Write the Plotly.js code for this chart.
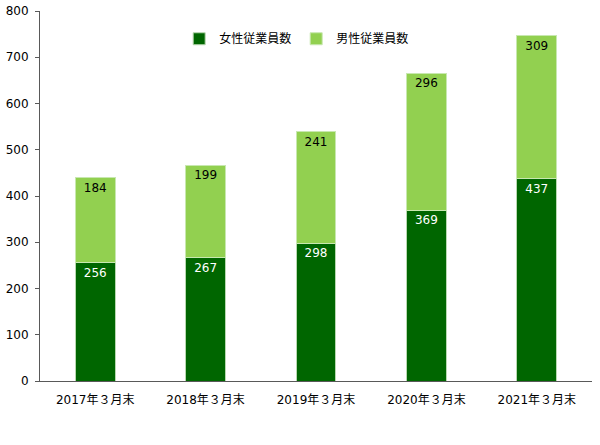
<!DOCTYPE html>
<html>
<head>
<meta charset="utf-8">
<script src="https://cdn.plot.ly/plotly-3.0.1.min.js"></script>
<style>
	html, body { margin: 0; padding: 0; background: #fff; }
	#chart { width: 600px; height: 445px; }
</style>
</head>
<body>
<div id="chart"></div>
<script>
// --- DATA ---
const years = ['2017年３月末', '2018年３月末', '2019年３月末', '2020年３月末', '2021年３月末'];
const female = [256, 267, 298, 369, 437];
const male = [184, 199, 241, 296, 309];
const yTicks = [0, 100, 200, 300, 400, 500, 600, 700, 800];

const FONT = '"DejaVu Sans", Verdana, "Noto Sans CJK JP", sans-serif';

const traces = [
	{
		name: '女性従業員数',
		x: years,
		y: female,
		type: 'bar',
		marker: { color: '#006600', line: { color: '#b8d8b0', width: 1 } },
		text: female.map(String),
		textposition: 'inside',
		insidetextanchor: 'end',
		textfont: { color: '#ffffff', size: 12, family: FONT },
		hoverinfo: 'skip'
	},
	{
		name: '男性従業員数',
		x: years,
		y: male,
		type: 'bar',
		marker: { color: '#92d050', line: { color: '#c8e8b0', width: 1 } },
		text: male.map(String),
		textposition: 'inside',
		insidetextanchor: 'end',
		textfont: { color: '#000000', size: 12, family: FONT },
		hoverinfo: 'skip'
	}
];

Plotly.newPlot('chart', traces, {
	width: 600,
	height: 445,
	barmode: 'stack',
	bargap: 0.64,
	paper_bgcolor: '#ffffff',
	plot_bgcolor: '#ffffff',
	font: { family: FONT, size: 12, color: '#000' },
	margin: { t: 11, l: 40, r: 8, b: 64 },
	showlegend: true,
	legend: {
		orientation: 'h',
		x: 0.465, xanchor: 'center',
		y: 0.925, yanchor: 'middle',
		font: { size: 12, family: FONT },
		itemwidth: 30,
		traceorder: 'normal'
	},
	xaxis: {
		showline: true,
		linecolor: '#595959',
		linewidth: 1,
		ticks: '',
		tickfont: { size: 12 },
		showgrid: false,
		ticklabelstandoff: 8
	},
	yaxis: {
		range: [0, 800],
		tickvals: yTicks,
		showline: true,
		linecolor: '#595959',
		linewidth: 1,
		ticks: 'outside',
		ticklen: 4,
		tickcolor: '#595959',
		showgrid: false,
		zeroline: false,
		tickfont: { size: 12 },
		ticklabelstandoff: 4
	}
}, { displayModeBar: false, staticPlot: true });
</script>
</body>
</html>
